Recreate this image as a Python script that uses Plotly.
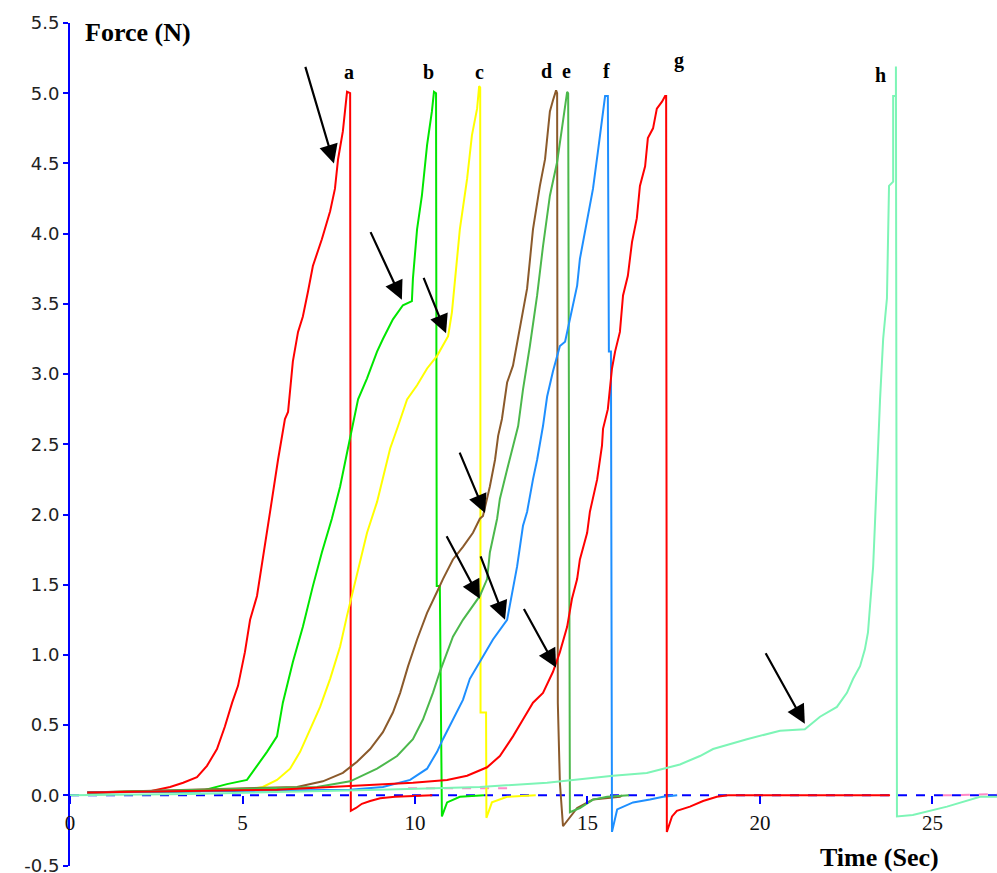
import plotly.graph_objects as go

# ---------------- data ----------------
a_x = [0.5, 2.32, 2.90, 3.28, 3.68, 3.97, 4.26, 4.49, 4.70, 4.87, 5.07, 5.22, 5.42, 5.59, 5.80, 6.03, 6.23, 6.32, 6.46, 6.61, 6.75, 6.90, 7.04, 7.30, 7.54, 7.68, 7.77, 7.91, 8.03, 8.12, 8.14, 8.29, 8.46, 8.70, 8.99, 9.42, 10.5]
a_y = [0.02, 0.03, 0.06, 0.09, 0.13, 0.21, 0.33, 0.49, 0.66, 0.78, 1.02, 1.25, 1.42, 1.68, 2.02, 2.39, 2.68, 2.73, 3.09, 3.30, 3.41, 3.59, 3.77, 3.96, 4.16, 4.32, 4.53, 4.73, 5.01, 5.00, -0.11, -0.09, -0.06, -0.04, -0.02, -0.01, 0.0]

b_x = [0.5, 3.77, 4.55, 5.13, 5.42, 5.71, 6.00, 6.17, 6.46, 6.75, 7.04, 7.30, 7.59, 7.83, 8.03, 8.17, 8.35, 8.61, 8.90, 9.07, 9.36, 9.65, 9.91, 9.94, 10.06, 10.20, 10.35, 10.49, 10.55, 10.61, 10.63, 10.72, 10.78, 10.93, 11.30, 12.0]
b_y = [0.02, 0.03, 0.08, 0.11, 0.21, 0.31, 0.42, 0.66, 0.95, 1.20, 1.49, 1.73, 1.97, 2.20, 2.44, 2.61, 2.82, 2.97, 3.16, 3.25, 3.39, 3.49, 3.52, 3.68, 4.03, 4.27, 4.63, 4.87, 5.01, 5.00, 1.49, 1.49, -0.15, -0.05, -0.01, 0.0]

c_x = [0.5, 5.13, 5.59, 6.00, 6.38, 6.67, 6.96, 7.25, 7.54, 7.83, 8.03, 8.20, 8.41, 8.61, 8.90, 9.07, 9.28, 9.51, 9.77, 10.06, 10.35, 10.64, 10.96, 11.07, 11.16, 11.30, 11.51, 11.65, 11.80, 11.86, 11.89, 11.90, 12.06, 12.07, 12.23, 12.67, 13.5]
c_y = [0.02, 0.04, 0.06, 0.11, 0.19, 0.31, 0.47, 0.63, 0.83, 1.06, 1.28, 1.45, 1.68, 1.87, 2.09, 2.27, 2.47, 2.63, 2.82, 2.92, 3.04, 3.13, 3.27, 3.44, 3.68, 4.03, 4.39, 4.70, 4.89, 5.05, 5.04, 0.59, 0.59, -0.16, -0.05, -0.01, 0.0]

d_x = [0.5, 6.58, 7.33, 7.91, 8.32, 8.70, 9.07, 9.36, 9.57, 9.80, 10.06, 10.35, 10.64, 10.81, 11.10, 11.39, 11.68, 11.88, 11.97, 12.17, 12.32, 12.41, 12.52, 12.67, 12.84, 13.04, 13.25, 13.42, 13.62, 13.77, 13.91, 14.00, 14.09, 14.12, 14.14, 14.20, 14.29, 14.70, 15.16, 15.94, 16.0]
d_y = [0.02, 0.06, 0.10, 0.16, 0.24, 0.33, 0.45, 0.59, 0.73, 0.92, 1.11, 1.30, 1.45, 1.54, 1.68, 1.77, 1.87, 1.97, 1.99, 2.20, 2.39, 2.56, 2.68, 2.94, 3.06, 3.32, 3.61, 4.03, 4.34, 4.53, 4.87, 4.95, 5.02, 5.00, 0.66, 0.09, -0.22, -0.09, -0.03, -0.01, 0.0]

e_x = [0.5, 7.16, 8.12, 8.90, 9.48, 9.94, 10.23, 10.52, 10.72, 10.93, 11.10, 11.39, 11.68, 11.88, 12.09, 12.17, 12.38, 12.46, 12.67, 12.84, 12.99, 13.13, 13.33, 13.54, 13.71, 13.91, 14.12, 14.26, 14.35, 14.41, 14.44, 14.49, 14.78, 15.16, 15.57, 16.2]
e_y = [0.02, 0.06, 0.10, 0.19, 0.28, 0.40, 0.54, 0.73, 0.88, 1.02, 1.13, 1.25, 1.35, 1.42, 1.54, 1.73, 1.97, 2.11, 2.32, 2.49, 2.63, 2.89, 3.20, 3.56, 3.91, 4.27, 4.51, 4.75, 4.89, 5.01, 5.00, -0.12, -0.09, -0.03, -0.01, 0.0]

f_x = [0.5, 8.12, 9.07, 9.86, 10.35, 10.64, 10.81, 11.10, 11.39, 11.59, 11.88, 12.26, 12.67, 12.84, 12.96, 13.13, 13.25, 13.42, 13.54, 13.71, 13.83, 14.00, 14.20, 14.35, 14.49, 14.70, 14.78, 14.99, 15.16, 15.30, 15.42, 15.51, 15.59, 15.62, 15.68, 15.71, 15.86, 16.32, 16.81, 17.19, 17.6]
f_y = [0.02, 0.04, 0.06, 0.11, 0.19, 0.31, 0.40, 0.54, 0.68, 0.83, 0.95, 1.11, 1.25, 1.49, 1.63, 1.92, 2.02, 2.25, 2.39, 2.63, 2.84, 3.02, 3.20, 3.23, 3.39, 3.63, 3.82, 4.11, 4.32, 4.58, 4.82, 4.98, 4.98, 3.16, 3.16, -0.26, -0.10, -0.05, -0.03, -0.01, 0.0]

g_x = [0.5, 6.0, 9.94, 10.93, 11.51, 12.09, 12.46, 12.84, 13.13, 13.42, 13.71, 14.00, 14.20, 14.41, 14.55, 14.70, 14.78, 14.99, 15.07, 15.28, 15.42, 15.45, 15.59, 15.71, 15.80, 15.94, 16.03, 16.17, 16.29, 16.43, 16.52, 16.67, 16.75, 16.90, 17.01, 17.16, 17.25, 17.28, 17.30, 17.45, 17.59, 17.97, 18.35, 18.75, 19.07, 23.77]
g_y = [0.02, 0.04, 0.09, 0.11, 0.14, 0.20, 0.28, 0.42, 0.54, 0.66, 0.73, 0.88, 1.02, 1.20, 1.40, 1.54, 1.68, 1.87, 2.02, 2.25, 2.49, 2.61, 2.75, 3.04, 3.16, 3.30, 3.56, 3.70, 3.94, 4.11, 4.34, 4.48, 4.68, 4.75, 4.89, 4.94, 4.98, 4.98, -0.26, -0.15, -0.11, -0.08, -0.04, -0.01, 0.0, 0.0]

h_x = [0.0, 3.5, 8.99, 11.88, 13.83, 15.74, 16.72, 17.68, 18.26, 18.64, 19.62, 20.58, 21.30, 21.74, 22.23, 22.52, 22.70, 22.90, 23.04, 23.13, 23.19, 23.28, 23.33, 23.39, 23.48, 23.57, 23.68, 23.74, 23.86, 23.86, 23.94, 23.94, 23.97, 24.43, 25.42, 26.38, 26.87]
h_y = [0.0, 0.01, 0.04, 0.06, 0.09, 0.14, 0.16, 0.22, 0.28, 0.33, 0.40, 0.46, 0.47, 0.56, 0.63, 0.73, 0.83, 0.92, 1.04, 1.16, 1.35, 1.63, 1.92, 2.34, 2.82, 3.25, 3.54, 4.34, 4.37, 4.98, 4.98, 5.19, -0.15, -0.14, -0.08, -0.01, -0.01]

pink_x = [9.8, 12.7, None, 25.3, 26.87]
pink_y = [0.05, 0.05, None, 0.0, 0.01]

baseline_x = [0.0, 26.87]
baseline_y = [0.0, 0.0]

series_names = ["a", "b", "c", "d", "e", "f", "g", "h"]
series_colors = ["#ff0000", "#00e600", "#ffff00", "#8b5a2b", "#4cb84c", "#1e8fff", "#ff0000", "#7df5b6"]

label_x = [8.09, 10.38, 11.86, 13.80, 14.38, 15.54, 17.65, 23.48]
label_y = [5.15, 5.15, 5.15, 5.16, 5.16, 5.16, 5.23, 5.13]

arrow_x = [7.65, 9.62, 10.90, 12.03, 11.88, 12.61, 14.09, 21.30]
arrow_y = [4.50, 3.53, 3.29, 2.01, 1.40, 1.25, 0.91, 0.51]
arrow_dx = [-29, -32, -23, -26, -34, -25, -33, -40]
arrow_dy = [-98, -69, -57, -62, -64, -65, -60, -72]

y_ticks = [-0.5, 0.0, 0.5, 1.0, 1.5, 2.0, 2.5, 3.0, 3.5, 4.0, 4.5, 5.0, 5.5]
y_tick_text = ["-0.5", "0.0", "0.5", "1.0", "1.5", "2.0", "2.5", "3.0", "3.5", "4.0", "4.5", "5.0", "5.5"]
x_ticks = [0, 5, 10, 15, 20, 25]
x_tick_text = ["0", "5", "10", "15", "20", "25"]

X_MAX = 26.87
Y_MIN, Y_MAX = -0.503, 5.5

# ---------------- figure ----------------
fig = go.Figure()

fig.add_trace(go.Scatter(x=baseline_x, y=baseline_y, mode="lines",
                         line=dict(color="#0000ff", width=2, dash="dash"),
                         hoverinfo="skip", showlegend=False))
fig.add_trace(go.Scatter(x=pink_x, y=pink_y, mode="lines",
                         line=dict(color="#ff88c8", width=2, dash="dash"),
                         hoverinfo="skip", showlegend=False))

xs = [a_x, b_x, c_x, d_x, e_x, f_x, g_x, h_x]
ys = [a_y, b_y, c_y, d_y, e_y, f_y, g_y, h_y]
for name, col, xv, yv in zip(series_names, series_colors, xs, ys):
    fig.add_trace(go.Scatter(x=xv, y=yv, mode="lines", name=name,
                             line=dict(color=col, width=2),
                             showlegend=False))

annotations = []
for name, lx, ly in zip(series_names, label_x, label_y):
    annotations.append(dict(x=lx, y=ly, xref="x", yref="y", text="<b>%s</b>" % name,
                            showarrow=False, font=dict(family="Liberation Serif", size=20, color="#000"),
                            xanchor="center", yanchor="middle"))
for tx, ty, dx, dy in zip(arrow_x, arrow_y, arrow_dx, arrow_dy):
    annotations.append(dict(x=tx, y=ty, xref="x", yref="y", ax=dx, ay=dy, text="",
                            showarrow=True, arrowhead=2, arrowsize=1.7, arrowwidth=2.2,
                            arrowcolor="#000", standoff=0))

annotations.append(dict(x=0.014, y=0.989, xref="paper", yref="paper", text="<b>Force (N)</b>",
                        showarrow=False, xanchor="left", yanchor="middle",
                        font=dict(family="Liberation Serif", size=26, color="#000")))
annotations.append(dict(x=0.94, y=0.0095, xref="paper", yref="paper", text="<b>Time (Sec)</b>",
                        showarrow=False, xanchor="right", yanchor="middle",
                        font=dict(family="Liberation Serif", size=26, color="#000")))

fig.update_layout(
    width=997, height=873,
    margin=dict(l=70, r=0, t=23, b=7, pad=0),
    paper_bgcolor="white", plot_bgcolor="white",
    template="none",
    showlegend=False,
    annotations=annotations,
    xaxis=dict(range=[0, X_MAX], anchor="free", position=(0 - Y_MIN) / (Y_MAX - Y_MIN),
               showgrid=False, zeroline=False, showline=False,
               tickmode="array", tickvals=x_ticks, ticktext=x_tick_text,
               ticks="outside", ticklen=8, tickwidth=2, tickcolor="#0000ff",
               tickfont=dict(family="Liberation Serif", size=21, color="#111"),
               automargin=False),
    yaxis=dict(range=[Y_MIN, Y_MAX], showgrid=False, zeroline=False,
               showline=True, linecolor="#0000ff", linewidth=2,
               tickmode="array", tickvals=y_ticks, ticktext=y_tick_text,
               ticks="outside", ticklen=5, tickwidth=2, tickcolor="#0000ff",
               tickfont=dict(family="DejaVu Sans", size=18, color="#222"),
               ticklabeloverflow="allow",
               automargin=False),
)

fig.write_html("out.html")
